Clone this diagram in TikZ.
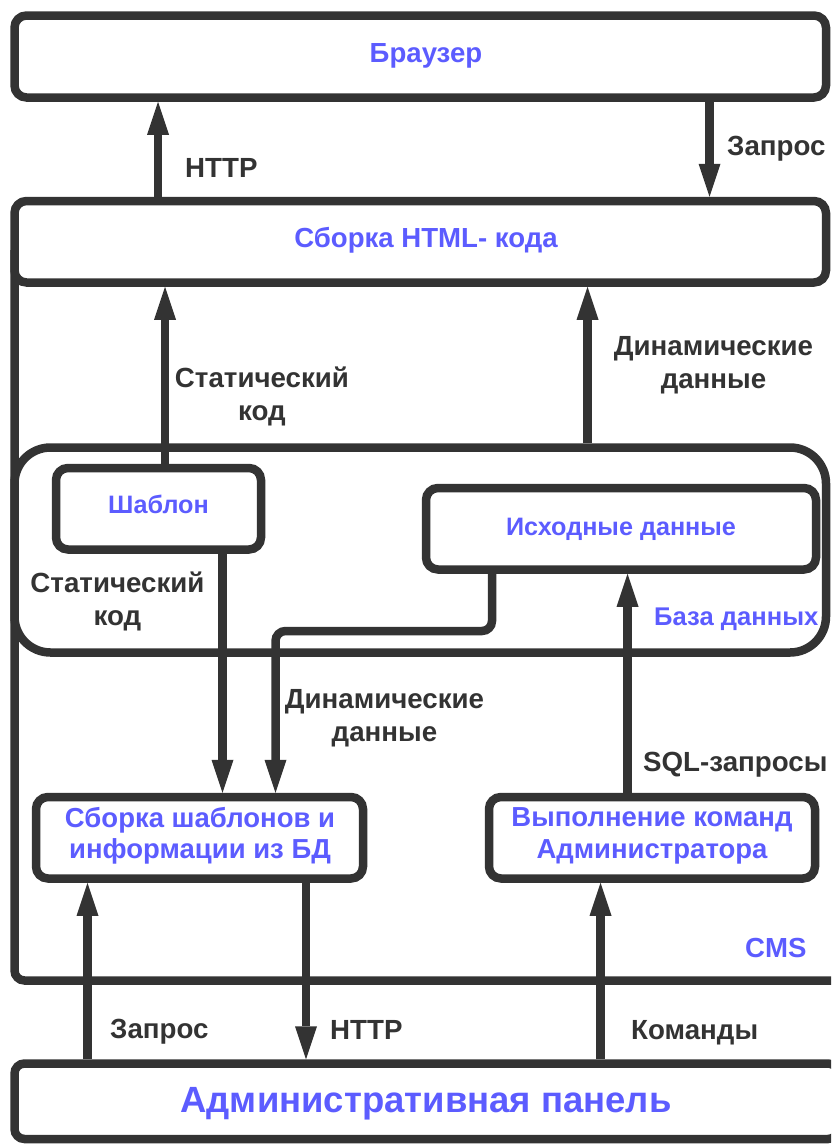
\documentclass[tikz,border=0pt]{standalone}
\usepackage{fontspec}
\setmainfont{Liberation Sans}
\usetikzlibrary{arrows.meta}
\definecolor{dark}{HTML}{333333}
\definecolor{bluet}{RGB}{92,92,255}
\begin{document}
\begin{tikzpicture}[x=1pt,y=-1pt,
  box/.style={draw=dark,line width=8.5pt,rounded corners=12pt,inner sep=0pt},
  wire/.style={draw=dark,line width=8.5pt},
  arr/.style={wire,-{Triangle[length=33pt,width=22pt,line width=0pt]}},
  lab/.style={text=dark,font=\bfseries\fontsize{27.7}{33}\selectfont,inner sep=0pt,align=center},
  btxt/.style={text=bluet,font=\bfseries\fontsize{25.2}{31}\selectfont,inner sep=0pt,align=center},
  btwo/.style={text=bluet,font=\bfseries\fontsize{27.5}{31.5}\selectfont,inner sep=0pt,align=center},
  bbig/.style={text=bluet,font=\bfseries\fontsize{27.6}{32}\selectfont,inner sep=0pt},
  bhuge/.style={text=bluet,font=\bfseries\fontsize{36.5}{40}\selectfont,inner sep=0pt}]
\useasboundingbox (0,0) rectangle (831,1146);
\clip (0,0) rectangle (831,1146);

% boxes
\node[box,minimum width=811.5pt,minimum height=82pt] (browser) at (420.25,56.5) {};
\node[bbig,anchor=base] (browsert) at (426,62) {Браузер};
\node[box,minimum width=811.5pt,minimum height=81.5pt] (html) at (420.25,241.75) {};
\node[bbig,anchor=base] (htmlt) at (426,247) {Сборка HTML- кода};
\node[box,rounded corners=36pt,minimum width=811.5pt,minimum height=205pt] (db) at (420.25,550) {};
\node[box,minimum width=205pt,minimum height=81.5pt] (shablon) at (158.5,508.75) {};
\node[btxt,anchor=base] (shablont) at (158.5,513) {Шаблон};
\node[box,minimum width=390pt,minimum height=81.5pt] (isx) at (621,528.75) {};
\node[btxt,anchor=base] (isxt) at (621,535) {Исходные данные};
\node[box,minimum width=327pt,minimum height=81.5pt] (sborka) at (199.5,837.75) {};
\node[btwo] (sborkat) at (200,836) {Сборка шаблонов и\\информации из БД};
\node[box,minimum width=326pt,minimum height=81.5pt] (vyp) at (652,837.75) {};
\node[btwo] (vypt) at (652,836) {Выполнение команд\\Администратора};
\node[box,rounded corners=10pt,minimum width=823.5pt,minimum height=75.5pt] (admin) at (426.25,1101.25) {};
\node[bhuge,anchor=base] (admint) at (426,1112) {Административная панель};

% CMS frame (continues past the right edge)
\draw[wire,rounded corners=10pt] (850,980.5) -- (14.5,980.5) -- (14.5,250);
\node[bbig,anchor=base west] (cms) at (745,957) {CMS};
\node[btxt,anchor=base west,font=\bfseries\fontsize{25.6}{31}\selectfont] (dbl) at (654,625) {База данных};

% guides
\coordinate (g1) at (158,0);
\coordinate (g2) at (709.5,0);
\coordinate (g3) at (165,0);
\coordinate (g4) at (587.5,0);
\coordinate (g5) at (222.5,0);
\coordinate (g7) at (627.5,0);
\coordinate (g8) at (87.5,0);
\coordinate (g9) at (306,0);
\coordinate (g10) at (600.5,0);
\coordinate (k1) at (492,631);
\coordinate (k2) at (275.5,631);

% arrows
\draw[arr] (g1 |- html.north) -- (g1 |- browser.south);
\draw[arr] (g2 |- browser.south) -- (g2 |- html.north);
\draw[arr] (g3 |- shablon.north) -- (g3 |- html.south);
\draw[arr] (g4 |- db.north) -- (g4 |- html.south);
\draw[arr] (g5 |- shablon.south) -- (g5 |- sborka.north);
\draw[arr,rounded corners=10pt] (k1 |- isx.south) -- (k1) -- (k2) -- (k2 |- sborka.north);
\draw[arr] (g7 |- vyp.north) -- (g7 |- isx.south);
\draw[arr] (g8 |- admin.north) -- (g8 |- sborka.south);
\draw[arr] (g9 |- sborka.south) -- (g9 |- admin.north);
\draw[arr] (g10 |- admin.north) -- (g10 |- vyp.south);

% labels
\node[lab,anchor=base west] (l1) at (185,177) {HTTP};
\node[lab,anchor=base west] (l2) at (727,155) {Запрос};
\node[lab] (l3) at (262,396.5) {Статический\\код};
\node[lab] (l4) at (713.5,365.5) {Динамические\\данные};
\node[lab] (l5) at (117.5,601) {Статический\\код};
\node[lab] (l6) at (384.5,718.5) {Динамические\\данные};
\node[lab,anchor=base west] (l7) at (643,771) {SQL-запросы};
\node[lab,anchor=base west] (l8) at (110,1038) {Запрос};
\node[lab,anchor=base west] (l9) at (330,1039) {HTTP};
\node[lab,anchor=base west] (l10) at (631,1039) {Команды};
\end{tikzpicture}
\end{document}
